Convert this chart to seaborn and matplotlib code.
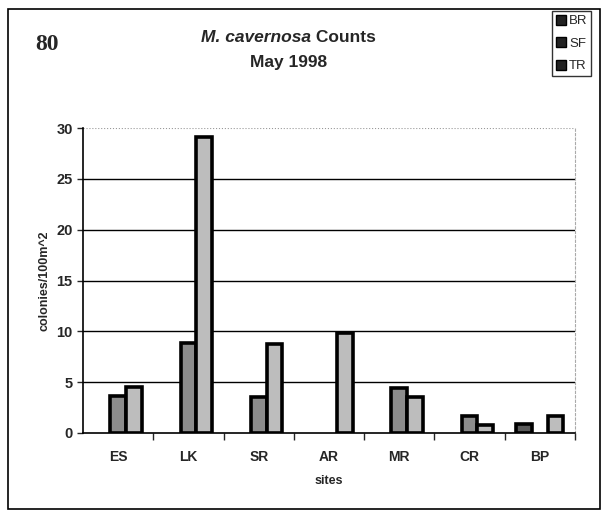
import matplotlib
matplotlib.use("Agg")
import matplotlib.pyplot as plt
from matplotlib.patches import Rectangle
import seaborn as sns
import pandas as pd

sites = ["ES", "LK", "SR", "AR", "MR", "CR", "BP"]
br = [0, 0, 0, 0, 0, 0, 0.9]
sf = [3.6, 8.9, 3.5, 0, 4.4, 1.7, 0]
tr = [4.5, 29.1, 8.8, 9.8, 3.5, 0.8, 1.7]
series = ["BR", "SF", "TR"]
palette = {"BR": "#5a5a5a", "SF": "#8c8c8c", "TR": "#bdbdbd"}

df = pd.DataFrame({
    "site": sites * 3,
    "count": br + sf + tr,
    "series": ["BR"] * 7 + ["SF"] * 7 + ["TR"] * 7,
})

sns.set_style("white")
plt.rcParams["font.family"] = ["Liberation Sans", "DejaVu Sans"]

fig = plt.figure(figsize=(6.08, 5.17), dpi=100)
ax = fig.add_axes([83 / 608, 1 - 433 / 517, 492 / 608, 305 / 517])

sns.barplot(data=df, x="site", y="count", hue="series", order=sites,
            hue_order=series, palette=palette, width=0.67, ax=ax,
            edgecolor="black", linewidth=2.6, saturation=1, legend=False)
# hide empty bars so their outlines don't thicken the baseline
for p in ax.patches:
    if p.get_height() == 0:
        p.set_visible(False)

ax.set_ylim(0, 30)
ax.set_xlim(-0.5, len(sites) - 0.5)
ax.set_yticks(range(0, 31, 5))
for y in range(5, 30, 5):
    ax.axhline(y, color="black", lw=1, zorder=0)
ax.axhline(30, color="#999999", lw=0.8, ls=":", zorder=0)

ax.tick_params(axis="y", length=4, width=1, direction="out", left=True,
               labelsize=10.5)
ax.tick_params(axis="x", length=0, labelsize=10, pad=12)
for lab in ax.get_xticklabels() + ax.get_yticklabels():
    lab.set_fontweight("bold")
# excel-style ticks between categories
ax.set_xticks([i + 0.5 for i in range(len(sites))], minor=True)
ax.tick_params(axis="x", which="minor", length=5, width=1, bottom=True,
               direction="out")

ax.spines["top"].set_visible(False)
ax.spines["right"].set_color("#aaaaaa")
ax.spines["right"].set_linestyle((0, (2, 2)))
ax.spines["left"].set_linewidth(1.2)
ax.spines["bottom"].set_linewidth(1.2)
ax.spines["left"].set_color("black")
ax.spines["bottom"].set_color("black")

ax.set_xlabel("sites", fontsize=9, fontweight="bold", labelpad=8)
ax.set_ylabel("colonies/100m^2", fontsize=9, fontweight="bold", labelpad=4)

# title: italic species name + plain bold text, centred together
title_y = 1 - 37 / 517
t1 = fig.text(0, title_y, "M. cavernosa", ha="left", va="center",
              fontsize=12.5, fontweight="bold", style="italic")
t2 = fig.text(0, title_y, " Counts", ha="left", va="center",
              fontsize=12.5, fontweight="bold")
fig.canvas.draw()
r = fig.canvas.get_renderer()
w1 = t1.get_window_extent(r).width / fig.bbox.width
w2 = t2.get_window_extent(r).width / fig.bbox.width
x0 = 0.474 - (w1 + w2) / 2
t1.set_x(x0)
t2.set_x(x0 + w1)
fig.text(0.474, 1 - 62 / 517, "May 1998", ha="center", va="center",
         fontsize=12.5, fontweight="bold")
fig.text(47 / 608, 1 - 45 / 517, "80", ha="center", va="center",
         fontsize=17, fontweight="bold", family="Liberation Serif")

# outer frame
fig.patches.append(Rectangle((8 / 608, 1 - 509 / 517), 592 / 608, 500 / 517,
                             transform=fig.transFigure, fill=False,
                             edgecolor="black", lw=1.2))

handles = [Rectangle((0, 0), 1, 1, facecolor="#222222", edgecolor="black")
           for s in series]
fig.legend(handles, series, loc="upper right",
           bbox_to_anchor=(598 / 608, 1 - 4 / 517), fontsize=9.5,
           frameon=True, fancybox=False, edgecolor="black",
           handlelength=0.8, handleheight=0.8, handletextpad=0.2,
           labelspacing=0.75, borderpad=0.3)

fig.savefig("out.png", dpi=100)
